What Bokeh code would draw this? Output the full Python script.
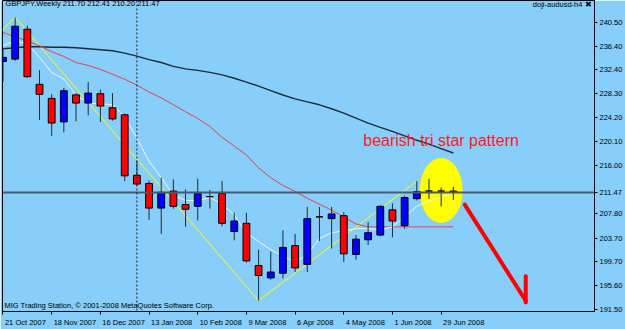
import pandas as pd
from bokeh.plotting import figure
from bokeh.models import ColumnDataSource, Span, Label, FixedTicker, Range1d
from bokeh.embed import file_html
from bokeh.resources import INLINE

# ---- data (weekly GBPJPY bars) ----
opens  = [233.8, 234.2, 239.3, 229.9, 227.5, 223.5, 228.1, 226.7, 228.3, 225.9,
          224.7, 214.4, 213.0, 208.8, 211.7, 209.4, 209.1, 210.75, 211.3, 204.8,
          206.2, 199.0, 196.9, 197.7, 202.4, 199.2, 207.3, 207.0, 207.5, 200.9,
          203.4, 204.2, 208.5, 205.8, 210.4, 211.7, 211.7, 211.70]
highs  = [235.8, 241.3, 239.9, 232.3, 228.2, 229.3, 228.4, 230.3, 229.0, 228.4,
          224.9, 216.9, 213.5, 214.0, 213.7, 212.0, 213.8, 211.9, 213.4, 208.0,
          208.0, 201.7, 201.4, 205.0, 204.4, 209.0, 209.0, 209.0, 208.1, 204.2,
          206.4, 209.3, 209.6, 210.9, 213.4, 213.8, 212.3, 212.41]
lows   = [230.3, 233.9, 231.0, 223.8, 221.1, 221.7, 223.6, 224.6, 223.5, 223.7,
          213.4, 212.6, 206.8, 204.4, 208.7, 205.6, 206.7, 208.7, 205.7, 203.3,
          199.5, 193.0, 196.6, 196.8, 197.9, 197.9, 203.2, 201.9, 199.6, 200.0,
          202.5, 204.0, 203.8, 205.3, 210.1, 210.35, 209.1, 210.20]
closes = [234.5, 239.8, 231.2, 228.2, 223.3, 228.8, 226.7, 228.4, 226.2, 224.0,
          214.3, 212.9, 208.8, 211.5, 209.1, 208.6, 211.3, 210.75, 206.2, 206.6,
          199.8, 197.3, 197.9, 202.1, 198.6, 207.0, 207.3, 207.8, 201.0, 203.5,
          204.6, 209.1, 206.6, 210.6, 211.6, 211.7, 211.7, 211.47]

ma_fast = [236.5, 237.3, 236.8, 234.5, 231.9, 230.8, 228.1, 226.7, 226.6, 226.4,
           224.4, 220.7, 216.8, 214.0, 211.0, 210.1, 210.1, 210.6, 209.5, 207.6,
           204.6, 203.1, 201.7, 200.6, 199.6, 200.9, 203.6, 204.6, 204.9, 205.3,
           205.3, 205.1, 205.6, 207.3, 209.1, 210.0, 210.6, 211.5]
ma_mid = [238.74, 237.98, 237.31, 236.47, 235.47, 234.63, 233.62, 233.12, 232.45, 231.61,
          230.77, 229.76, 228.59, 227.58, 226.41, 225.23, 224.06, 222.71, 220.87, 219.36,
          217.85, 215.66, 213.99, 212.65, 211.64, 210.47, 209.46, 208.45, 207.28, 206.10,
          205.60, 205.60, 205.60, 205.60, 205.60, 205.60, 205.60, 205.60]
ma_slow = [235.97, 236.14, 236.31, 236.31, 236.22, 236.22, 236.14, 235.97, 235.80, 235.63,
           235.21, 234.71, 234.12, 233.62, 232.95, 232.53, 232.28, 231.94, 231.52, 230.94,
           230.27, 229.60, 228.84, 228.08, 227.41, 226.91, 226.41, 225.74, 224.98, 224.14,
           223.30, 222.55, 221.88, 221.12, 220.37, 219.70, 218.94, 218.19]

zigzag_idx = [-1, 1, 21, 34]
zigzag_val = [237.2, 241.3, 193.0, 213.4]

price_ticks = [240.50, 236.40, 232.40, 228.30, 224.20, 220.10, 216.00, 211.47,
               207.80, 203.70, 199.70, 195.60, 191.50]
date_ticks = ["21 Oct 2007", "18 Nov 2007", "16 Dec 2007", "13 Jan 2008", "10 Feb 2008",
              "9 Mar 2008", "6 Apr 2008", "4 May 2008", "1 Jun 2008", "29 Jun 2008"]
last_price = 211.47
marker_week = 11
title_text = "GBPJPY,Weekly  211.70 212.41 210.20 211.47"
note_text = "bearish tri star pattern"
footer_text = "MIG Trading Station, \u00a9 2001-2008 MetaQuotes Software Corp."
ea_text = "doji-audusd-h4 \u2716"

# ---- derived ----
weeks = pd.date_range("2007-10-21", periods=len(opens), freq="7D")
week_str = [f"{d.day} {d.strftime('%b %Y')}" for d in weeks]
idx = list(range(len(opens)))
x_tick_pos = [i for i, s in enumerate(week_str) if s in date_ticks]

BG = "#87CEFA"
UP = "#0000FF"
DN = "#FF0000"
WICK = "#1E2B38"
FONT = "Liberation Sans"
FS = 7.5            # axis font size in px
PX_PER_BAR = 12.19  # horizontal scale of the frame

# approximate glyph advance widths (em) to left-align the date labels at their ticks
EM = {" ": .278, "O": .778, "c": .5, "t": .278, "N": .722, "o": .556, "v": .5,
      "D": .722, "e": .556, "J": .5, "a": .556, "n": .556, "F": .611, "b": .556,
      "M": .833, "r": .333, "A": .667, "p": .556, "y": .5, "u": .556}
def text_w(s):
    return sum(EM.get(ch, .556) for ch in s) * FS

label_pos = [i + (text_w(week_str[i]) / 2 + 2) / PX_PER_BAR for i in x_tick_pos]

src = ColumnDataSource(dict(
    x=idx, o=opens, h=highs, l=lows, c=closes,
    top=[max(a, b) for a, b in zip(opens, closes)],
    bot=[min(a, b) for a, b in zip(opens, closes)],
    col=[UP if c > o else (DN if c < o else WICK) for o, c in zip(opens, closes)],
))

p = figure(width=625, height=329,
           x_range=Range1d(-0.041, 48.6), y_range=Range1d(191.17, 244.19),
           y_axis_location="right", toolbar_location=None, output_backend="svg",
           min_border_left=2, min_border_right=30, min_border_top=0, min_border_bottom=13,
           background_fill_color=BG, border_fill_color=BG,
           outline_line_color="#000000", outline_line_width=1)
p.grid.visible = False

# yellow highlight ellipse
p.ellipse(x=[36.0], y=[211.8], width=3.53, height=11.07,
          fill_color="#FFFF00", line_color=None)

# indicators
p.line(zigzag_idx, zigzag_val, line_color="#FFFF00", line_width=1)
p.line(idx, ma_slow, line_color="#1E2B38", line_width=1.4)
p.line(idx, ma_mid, line_color="#E8404A", line_width=1)
p.line(idx, ma_fast, line_color="#F2F6FA", line_width=1)

# candles
p.segment(x0="x", y0="l", x1="x", y1="h", source=src, line_color=WICK, line_width=1)
p.vbar(x="x", top="top", bottom="bot", width=0.56, source=src,
       fill_color="col", line_color="#000000", line_width=1)

# price line and separator
p.add_layout(Span(location=last_price, dimension="width",
                  line_color="#4A5A68", line_width=2))
p.add_layout(Span(location=marker_week, dimension="height",
                  line_color="#222222", line_width=1, line_dash="2 2"))

# red arrow
p.multi_line(xs=[[37.94, 42.95], [42.95, 42.95]],
             ys=[[209.4, 193.0], [197.2, 192.7]],
             line_color="#FF0000", line_width=4, line_cap="round")

# annotation text
p.add_layout(Label(x=29.6, y=220.4, text=note_text, text_color="#FF1A1A",
                   text_font=FONT, text_font_size="16px",
                   text_align="left", text_baseline="alphabetic"))

# title, footer, EA label
p.add_layout(Label(x=3, y=308.5, x_units="screen", y_units="screen",
                   text=title_text, text_font=FONT, text_font_size="7.5px",
                   text_color="#000000", text_baseline="middle"))
p.add_layout(Label(x=2, y=6, x_units="screen", y_units="screen",
                   text=footer_text, text_font=FONT, text_font_size="7.5px",
                   text_color="#000000", text_baseline="middle"))
p.add_layout(Label(x=589, y=307, x_units="screen", y_units="screen",
                   text=ea_text, text_font=FONT, text_font_size="7.5px",
                   text_color="#000000", text_align="right", text_baseline="middle"))

# y axis (right)
p.yaxis.ticker = FixedTicker(ticks=price_ticks)
p.yaxis.major_label_overrides = {v: f"{v:.2f}" for v in price_ticks}
p.yaxis.major_tick_line_color = "#000000"
p.yaxis.major_tick_in = 0
p.yaxis.major_tick_out = 3
p.yaxis.minor_tick_line_color = None
p.yaxis.major_label_standoff = 2

# x axis: labels sit at shifted (major) positions so they read left-aligned;
# the visible tick marks are the minor ticks at the bar positions
p.xaxis.ticker = FixedTicker(ticks=label_pos, minor_ticks=x_tick_pos)
p.xaxis.major_label_overrides = {lp: week_str[i] for lp, i in zip(label_pos, x_tick_pos)}
p.xaxis.major_tick_line_color = None
p.xaxis.major_tick_in = 0
p.xaxis.major_tick_out = 0
p.xaxis.minor_tick_line_color = "#000000"
p.xaxis.minor_tick_in = 0
p.xaxis.minor_tick_out = 3
p.xaxis.major_label_standoff = 3

for ax in (p.xaxis, p.yaxis):
    ax.axis_line_color = "#000000"
    ax.major_label_text_font = FONT
    ax.major_label_text_font_size = f"{FS}px"
    ax.major_label_text_color = "#000000"

open("out.html", "w").write(file_html(p, INLINE))
